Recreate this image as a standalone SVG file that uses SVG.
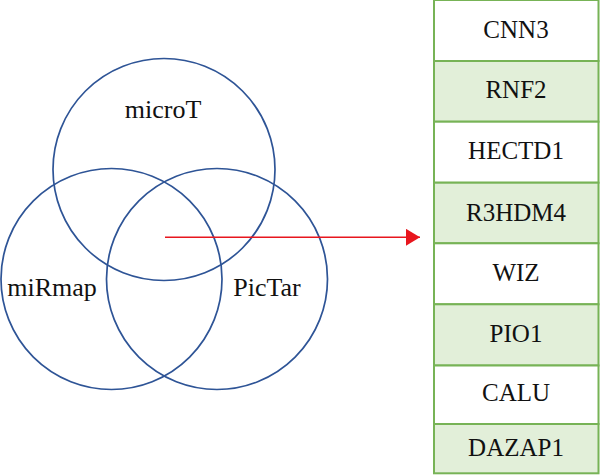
<svg xmlns="http://www.w3.org/2000/svg" width="600" height="475" viewBox="0 0 600 475">
<defs>
<style>
.c{fill:none;stroke:#2e5496;stroke-width:1.7}
.lbl{font-family:"Liberation Serif","DejaVu Serif",serif;font-size:26px;fill:#111;text-anchor:middle}
.t{font-family:"Liberation Serif","DejaVu Serif",serif;font-size:25px;fill:#111;text-anchor:middle}
.w{fill:#ffffff;stroke:#77b356;stroke-width:2}
.g{fill:#e2efd9;stroke:#77b356;stroke-width:2}
</style>
<marker id="ah" viewBox="0 0 14 17" refX="14" refY="8.5" markerWidth="14" markerHeight="17" markerUnits="userSpaceOnUse" orient="auto">
<path d="M0,0 L14,8.5 L0,17 Z" fill="#e8161e"/>
</marker>
</defs>
<g id="venn">
<g id="microT"><circle class="c" cx="164" cy="169.5" r="111"/><text class="lbl" x="163" y="118">microT</text></g>
<g id="miRmap"><circle class="c" cx="111.5" cy="279" r="110.5"/><text class="lbl" x="52" y="296">miRmap</text></g>
<g id="PicTar"><circle class="c" cx="217" cy="279" r="110.5"/><text class="lbl" x="267" y="296">PicTar</text></g>
</g>
<g id="connectors">
<line x1="165" y1="237.3" x2="420" y2="237.3" stroke="#e8161e" stroke-width="1.6" marker-end="url(#ah)"/>
</g>
<g id="table">
<g id="r1"><rect class="w" x="434" y="0" width="164.5" height="61"/><text class="t" x="516" y="38">CNN3</text></g>
<g id="r2"><rect class="g" x="434" y="61" width="164.5" height="60.7"/><text class="t" x="516" y="98">RNF2</text></g>
<g id="r3"><rect class="w" x="434" y="121.7" width="164.5" height="61"/><text class="t" x="516" y="158.5">HECTD1</text></g>
<g id="r4"><rect class="g" x="434" y="182.7" width="164.5" height="60.6"/><text class="t" x="516" y="220.5">R3HDM4</text></g>
<g id="r5"><rect class="w" x="434" y="243.3" width="164.5" height="61"/><text class="t" x="516" y="280.5">WIZ</text></g>
<g id="r6"><rect class="g" x="434" y="304.3" width="164.5" height="61.2"/><text class="t" x="516" y="341.5">PIO1</text></g>
<g id="r7"><rect class="w" x="434" y="365.5" width="164.5" height="58.5"/><text class="t" x="516" y="401">CALU</text></g>
<g id="r8"><rect class="g" x="434" y="424" width="164.5" height="49.3"/><text class="t" x="516" y="456">DAZAP1</text></g>
</g>
</svg>
